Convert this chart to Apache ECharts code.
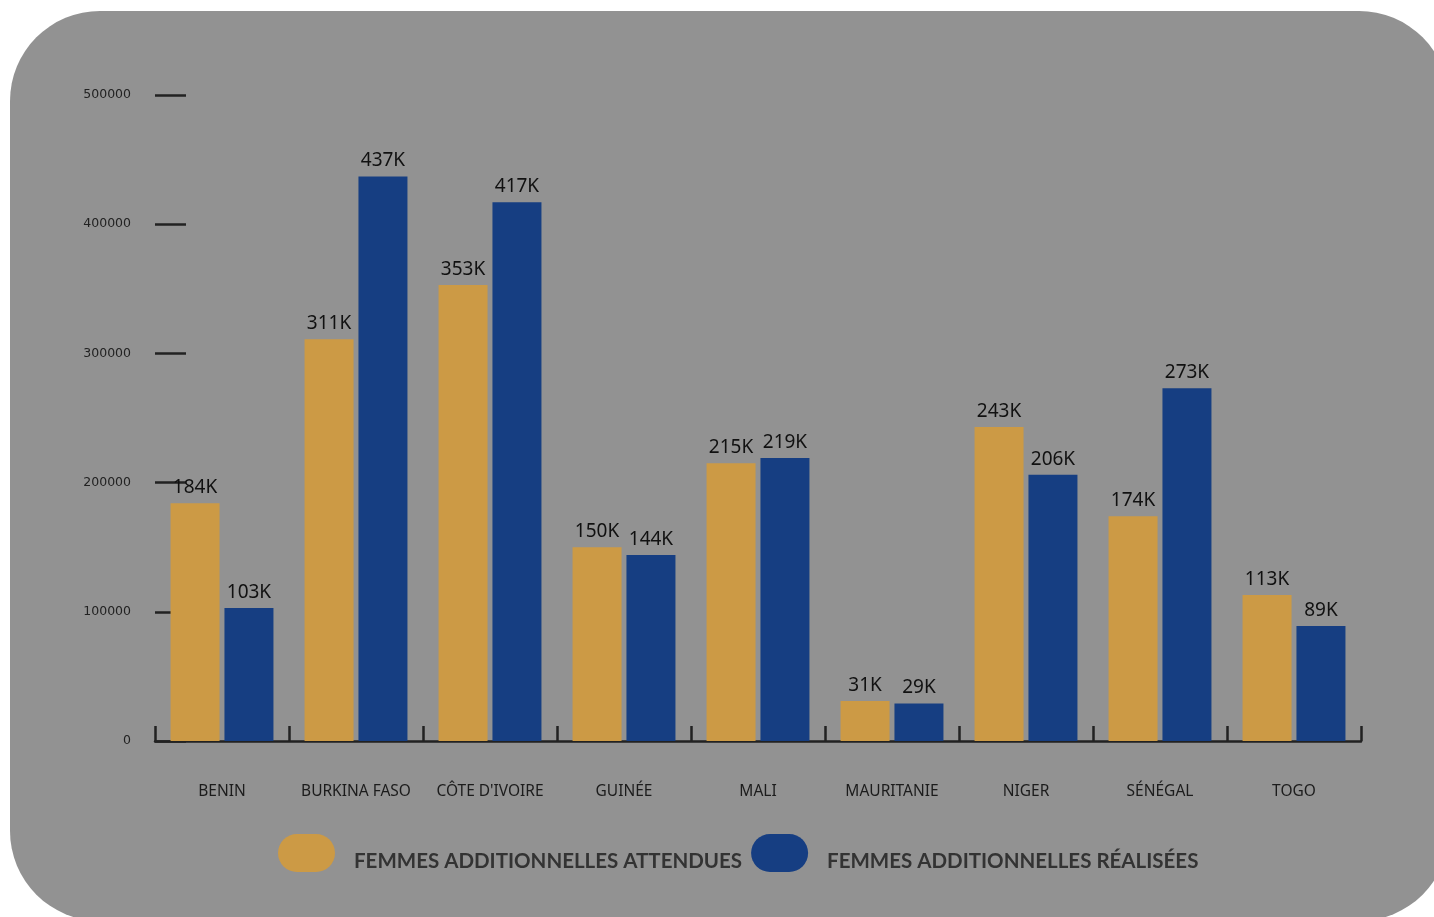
<!DOCTYPE html>
<html>
<head>
<meta charset="utf-8">
<script src="https://cdn.jsdelivr.net/npm/echarts@6/dist/echarts.min.js"></script>
<style>
  html, body { margin: 0; padding: 0; background: #ffffff; overflow: hidden; }
  #bg { position: absolute; left: 10px; top: 11px; width: 1439px; height: 910px; background: #929292; border-radius: 90px; }
  #chart { position: absolute; left: 0; top: 0; width: 1434px; height: 917px; }
</style>
</head>
<body>
<div id="bg"></div>
<div id="chart"></div>
<script>
const categories = ['BENIN', 'BURKINA FASO', 'CÔTE D\'IVOIRE', 'GUINÉE', 'MALI', 'MAURITANIE', 'NIGER', 'SÉNÉGAL', 'TOGO'];
const attendues = [184000, 311000, 353000, 150000, 215000, 31000, 243000, 174000, 113000];
const realisees = [103000, 437000, 417000, 144000, 219000, 29000, 206000, 273000, 89000];
const seriesNames = ['FEMMES ADDITIONNELLES ATTENDUES', 'FEMMES ADDITIONNELLES RÉALISÉES'];
const yTicks = [0, 100000, 200000, 300000, 400000, 500000];

const pill = 'path://M19,0 L38,0 A19,19 0 0 1 38,38 L19,38 A19,19 0 0 1 19,0 Z';

const chart = echarts.init(document.getElementById('chart'), null, { renderer: 'canvas' });
const labelOpt = {
  show: true,
  position: 'top',
  distance: 6,
  color: '#111111',
  fontSize: 19,
  fontFamily: 'Noto Sans',
  formatter: p => Math.round(p.value / 1000) + 'K'
};
chart.setOption({
  backgroundColor: 'transparent',
  animation: false,
  grid: { left: 155, right: 73, top: 95, bottom: 176, containLabel: false },
  legend: {
    left: 278,
    top: 834,
    padding: 0,
    itemWidth: 57,
    itemHeight: 38,
    itemGap: 9,
    icon: pill,
    formatter: name => '{t|' + name + '}',
    textStyle: {
      fontSize: 20.5, fontWeight: 'bold', color: '#333333', fontFamily: 'Lato',
      rich: { t: { fontSize: 20.5, fontWeight: 'bold', color: '#333333', fontFamily: 'Lato', padding: [16, 0, 0, 14] } }
    },
    data: seriesNames
  },
  xAxis: {
    type: 'category',
    data: categories,
    axisLine: { show: true, lineStyle: { color: '#222222', width: 2.5 } },
    axisTick: { show: true, inside: true, interval: 0, length: 15, lineStyle: { color: '#222222', width: 2.5 } },
    axisLabel: { interval: 0, margin: 43, fontSize: 15.5, color: '#1c1c1c', fontFamily: 'Noto Sans' },
    splitLine: { show: false }
  },
  yAxis: {
    type: 'value',
    min: 0,
    max: 500000,
    interval: 100000,
    axisLine: { show: false },
    axisTick: { show: true, inside: true, length: 31, lineStyle: { color: '#222222', width: 2.5 } },
    axisLabel: { margin: 24, fontSize: 12.5, color: '#222222', fontFamily: 'DejaVu Sans', padding: [3, 0, 0, 0],
      formatter: v => yTicks.includes(v) ? String(v) : '' },
    splitLine: { show: false }
  },
  series: [
    { name: seriesNames[0], type: 'bar', data: attendues, barWidth: 49, barGap: '10%',
      itemStyle: { color: '#CC9A45' }, label: labelOpt, z: 1 },
    { name: seriesNames[1], type: 'bar', data: realisees, barWidth: 49, barGap: '10%',
      itemStyle: { color: '#163E82' }, label: labelOpt, z: 1 }
  ]
});
</script>
</body>
</html>
